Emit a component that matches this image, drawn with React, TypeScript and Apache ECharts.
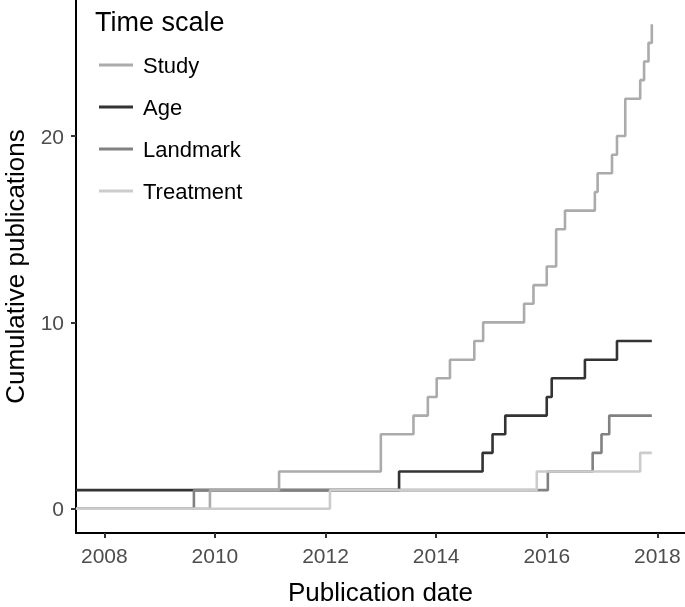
import React, { useEffect, useRef } from "react";
import * as echarts from "echarts";

const X_MIN = 2007.488;
const X_MAX = 2018.5;

const xTicks = [2008, 2010, 2012, 2014, 2016, 2018];
const yTicks = [0, 10, 20];

const studyX = [X_MIN, 2009.91, 2011.16, 2013.0, 2013.59, 2013.85, 2014.01, 2014.25, 2014.69, 2014.85, 2015.59, 2015.76, 2016.0, 2016.17, 2016.33, 2016.87, 2016.92, 2017.18, 2017.27, 2017.42, 2017.69, 2017.76, 2017.84, 2017.9];
const studyY = [0, 1, 2, 4, 5, 6, 7, 8, 9, 10, 11, 12, 13, 15, 16, 17, 18, 19, 20, 22, 23, 24, 25, 26];

const ageX = [X_MIN, 2013.33, 2014.84, 2015.02, 2015.25, 2016.0, 2016.09, 2016.69, 2017.27, 2017.9];
const ageY = [1, 2, 3, 4, 5, 6, 7, 8, 9, 9];

const landmarkX = [X_MIN, 2009.62, 2016.02, 2016.83, 2016.99, 2017.13, 2017.9];
const landmarkY = [0, 1, 2, 3, 4, 5, 5];

const treatmentX = [X_MIN, 2012.08, 2015.82, 2017.69, 2017.9];
const treatmentY = [0, 1, 2, 3, 3];

const legendOrder = ["Study", "Age", "Landmark", "Treatment"];

const FONT = "'Liberation Sans', Arial, Helvetica, sans-serif";

function zip(xs: number[], ys: number[]) {
  return xs.map((x, i) => [x, ys[i]]);
}

export default function App() {
  const ref = useRef<HTMLDivElement>(null);
  useEffect(() => {
    if (!ref.current) return;
    const chart = echarts.init(ref.current, undefined, { renderer: "svg" });
    const mk = (name: string, xs: number[], ys: number[], color: string) => ({
      name,
      type: "line",
      step: "end",
      data: zip(xs, ys),
      showSymbol: false,
      symbol: "none",
      lineStyle: { color, width: 2.6 },
      itemStyle: { color },
      emphasis: { disabled: true },
    });
    chart.setOption({
      animation: false,
      textStyle: { fontFamily: FONT },
      title: {
        text: "Time scale",
        left: 95,
        top: 8,
        padding: 0,
        textStyle: { fontSize: 27, fontWeight: "normal", color: "#000", fontFamily: FONT },
      },
      legend: {
        data: legendOrder,
        orient: "vertical",
        left: 99,
        top: 54,
        padding: 0,
        itemWidth: 34,
        itemHeight: 3,
        itemGap: 20,
        icon: "rect",
        textStyle: { fontSize: 22, color: "#000", lineHeight: 22, fontFamily: FONT, padding: [0, 0, 0, 5] },
      },
      grid: { left: 76, right: 0, top: 0, bottom: 74, containLabel: false, outerBoundsMode: "none" },
      xAxis: {
        type: "value",
        min: X_MIN,
        max: X_MAX,
        name: "Publication date",
        nameLocation: "middle",
        nameGap: 46,
        nameTextStyle: { fontSize: 26, color: "#000", fontFamily: FONT },
        axisLine: { show: true, onZero: false, lineStyle: { color: "#000", width: 2 } },
        axisTick: { show: true, length: 5, lineStyle: { color: "#333", width: 2 }, customValues: xTicks },
        axisLabel: {
          fontSize: 21,
          color: "#4d4d4d",
          margin: 12,
          customValues: xTicks,
          formatter: (v: number) => String(v),
          fontFamily: FONT,
        },
        splitLine: { show: false },
      },
      yAxis: {
        type: "value",
        min: -1.3,
        max: 27.3,
        name: "Cumulative publications",
        nameLocation: "middle",
        nameRotate: 90,
        nameGap: 48,
        nameTextStyle: { fontSize: 26, color: "#000", fontFamily: FONT },
        axisLine: { show: true, onZero: false, lineStyle: { color: "#000", width: 2 } },
        axisTick: { show: true, length: 5, lineStyle: { color: "#333", width: 2 }, customValues: yTicks },
        axisLabel: {
          fontSize: 21,
          color: "#4d4d4d",
          margin: 12,
          customValues: yTicks,
          formatter: (v: number) => String(v),
          fontFamily: FONT,
        },
        splitLine: { show: false },
      },
      series: [
        mk("Age", ageX, ageY, "#333333"),
        mk("Landmark", landmarkX, landmarkY, "#818181"),
        mk("Study", studyX, studyY, "#ABABAB"),
        mk("Treatment", treatmentX, treatmentY, "#CCCCCC"),
      ],
    });
    return () => chart.dispose();
  }, []);
  return <div ref={ref} style={{ position: "fixed", left: 0, top: 0, width: 685, height: 607 }} />;
}
